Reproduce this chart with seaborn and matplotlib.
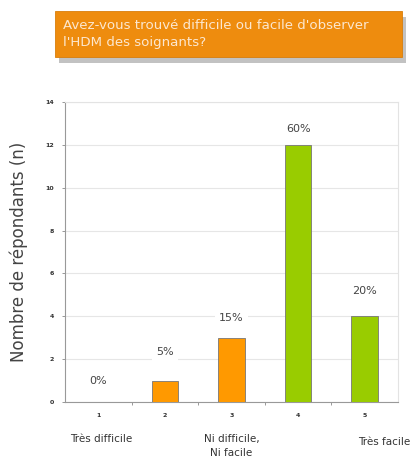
import matplotlib
matplotlib.use("Agg")
import matplotlib.pyplot as plt
import seaborn as sns
import pandas as pd
from matplotlib.patches import Rectangle

categories = ["1", "2", "3", "4", "5"]
counts = [0, 1, 3, 12, 4]
percents = ["0%", "5%", "15%", "60%", "20%"]
bar_colors = ["#FF9900", "#FF9900", "#FF9900", "#99CC00", "#99CC00"]
cat_labels = ["Très difficile", "", "Ni difficile,\nNi facile", "", "Très facile"]
title_text = "Avez-vous trouvé difficile ou facile d'observer\nl'HDM des soignants?"
ylabel = "Nombre de répondants (n)"
yticks = [0, 2, 4, 6, 8, 10, 12, 14]

sns.set_theme(style="white")
plt.rcParams['font.family'] = ['DejaVu Sans']

df = pd.DataFrame({"cat": categories, "n": counts})

fig = plt.figure(figsize=(4.13, 4.61), dpi=100)
ax = fig.add_axes([65/413, 59/461, 333/413, 300/461])

sns.barplot(data=df, x="cat", y="n", hue="cat", palette=bar_colors,
            legend=False, width=0.4, ax=ax, edgecolor="#777777", linewidth=0.6,
            saturation=1, zorder=3)

ax.set_xlim(-0.5, 4.5)
ax.set_ylim(0, 14)
ax.set_yticks(yticks)
ax.set_yticklabels([str(t) for t in yticks], fontsize=4.5, fontweight="bold", color="#333333")
ax.yaxis.grid(True, color="#e6e6e6", linewidth=0.8, zorder=0)
ax.set_axisbelow(True)
ax.set_xticks(range(5))
ax.set_xticklabels(categories, fontsize=4.5, fontweight="bold", color="#333333")
ax.tick_params(axis="x", length=0, pad=8)
ax.tick_params(axis="y", length=2, width=0.6, color="#888888", pad=6, left=True)
ax.set_xticks([0.5, 1.5, 2.5, 3.5], minor=True)
ax.tick_params(axis="x", which="minor", length=2, width=0.6, color="#888888", bottom=True)
ax.set_xlabel("")
ax.set_ylabel(ylabel, fontsize=12, color="#444444", labelpad=12)

for s in ["left", "bottom"]:
    ax.spines[s].set_color("#999999")
    ax.spines[s].set_linewidth(0.8)
for s in ["top", "right"]:
    ax.spines[s].set_color("#e3e3e3")
    ax.spines[s].set_linewidth(0.8)

pct_y = [1.0, 2.35, 3.9, 12.75, 5.2]
for i, (p, yy) in enumerate(zip(percents, pct_y)):
    ax.text(i, yy, p, ha="center", va="center", fontsize=8, color="#444444",
            bbox=dict(facecolor="white", edgecolor="none", pad=3), zorder=4)

for i, lab in enumerate(cat_labels):
    if not lab:
        continue
    if i == 4:
        ax.text(1.037, -1.65, lab, ha="right", va="top", fontsize=7.5,
                color="#333333", transform=ax.get_yaxis_transform(), clip_on=False)
        continue
    ax.text(i + (0.05 if i == 0 else 0), -1.5, lab, ha="center", va="top",
            fontsize=7.5, color="#333333", linespacing=1.5, clip_on=False)

fig.patches.append(Rectangle((59/413, 1 - 63/461), 347/413, 46/461,
                             transform=fig.transFigure, facecolor="#9a9a9a",
                             edgecolor="none", alpha=0.6, zorder=0))
fig.patches.append(Rectangle((55/413, 1 - 57/461), 347/413, 46/461,
                             transform=fig.transFigure, facecolor="#EE8C0E",
                             edgecolor="#D97E0A", linewidth=0.6, zorder=1))
fig.text(63/413, 1 - 34/461, title_text, ha="left", va="center", fontsize=9.6,
         color="#FCE7CF", linespacing=1.45, zorder=2)

fig.savefig("out.png", dpi=100)
